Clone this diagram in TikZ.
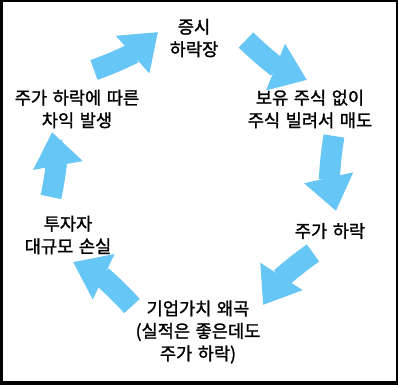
\documentclass[tikz,border=0pt]{standalone}
\usepackage{fontspec}
\setmainfont{Noto Sans CJK KR}
\newfontfamily\lblfont{Noto Sans CJK KR}[FakeBold=1.4, WordSpace=1.4]
\usetikzlibrary{arrows.meta}
\definecolor{cyclesky}{RGB}{102,198,245}
\tikzset{
  lbl/.style={font=\lblfont\fontsize{17.6}{22.5}\selectfont,
    align=center, inner sep=0pt},
  cyclearrow/.style={draw=cyclesky, line width=21pt,
    -{Triangle[width=48pt,length=34pt]}}
}

\begin{document}
\begin{tikzpicture}[x=1pt,y=1pt]
% 테두리
\fill[black] (0,0) rectangle (398,385);
\fill[white] (3,4) rectangle (395.5,382.5);

% 순환 단계
\node[lbl] (crash)   at (194,347) {증시\\하락장};
\node[lbl] (short)   at (310,276) {보유 주식 없이\\주식 빌려서 매도};
\node[lbl] (drop)    at (330,154) {주가 하락};
\node[lbl] (distort) at (198,53)  {기업가치 왜곡\\(실적은 좋은데도\\주가 하락)};
\node[lbl] (loss)    at (68,150)  {투자자\\대규모 손실};
\node[lbl] (gain)    at (77,276)  {주가 하락에 따른\\차익 발생};

% 화살표 꼬리/머리 좌표
\foreach \n/\p in {t1/{94,315}, h1/{158,353}, t2/{246,345}, h2/{307,305},
                   t3/{334,249}, h3/{336,174}, t4/{313,132}, h4/{263,80},
                   t5/{132,79},  h5/{73,123},  t6/{51,188},  h6/{52,253}}
  \coordinate (\n) at (\p);
\foreach \i in {1,...,6}
  \draw[cyclearrow] (t\i) to[bend right=11] (h\i);
\end{tikzpicture}
\end{document}
